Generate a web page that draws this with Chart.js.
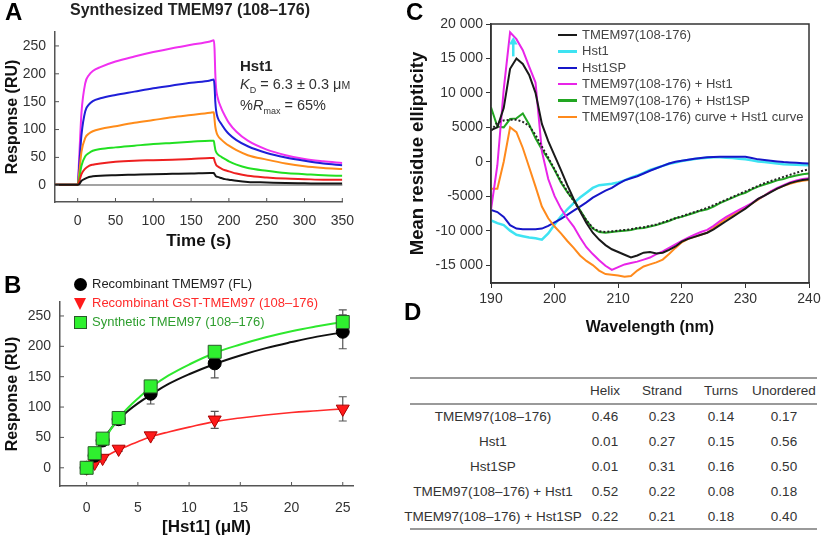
<!DOCTYPE html>
<html>
<head>
<meta charset="utf-8">
<script src="https://cdn.jsdelivr.net/npm/chart.js@4.4.0/dist/chart.umd.min.js"></script>
<style>
  body { margin: 0; background: #fff; }
  #wrap { position: relative; width: 824px; height: 542px; overflow: hidden; font-family: 'Liberation Sans', Arial, sans-serif; color: #222; }
  canvas { position: absolute; }
  .panel { position: absolute; font-weight: bold; font-size: 24px; line-height: 24px; color: #000; }
  .txt { position: absolute; white-space: nowrap; }
  .hline { position: absolute; height: 2px; background: #9a9a9a; }
  .cell { position: absolute; text-align: center; font-size: 13.5px; color: #333; white-space: nowrap; }
</style>
</head>
<body>
<div id="wrap">
  <canvas id="chartA" width="365" height="260" style="left:0;top:0"></canvas>
  <canvas id="chartB" width="370" height="282" style="left:0;top:260px"></canvas>
  <canvas id="chartC" width="424" height="345" style="left:400px;top:0"></canvas>

  <div class="panel" style="left:5px;top:0px">A</div>
  <div class="panel" style="left:4px;top:273px">B</div>
  <div class="panel" style="left:406px;top:0px">C</div>
  <div class="panel" style="left:404px;top:300px">D</div>

  <div class="txt" style="left:0;width:380px;top:1px;text-align:center;font-weight:bold;font-size:16px">Synthesized TMEM97 (108–176)</div>
  <div class="txt" style="left:240px;top:57px;font-weight:bold;font-size:15px">Hst1</div>
  <div class="txt" style="left:240px;top:76px;font-size:14.5px;color:#333"><i>K</i><sub style="font-size:9px">D</sub> = 6.3 ± 0.3 μ<span style="font-size:10.5px">M</span></div>
  <div class="txt" style="left:240px;top:97px;font-size:14.5px;color:#333">%<i>R</i><sub style="font-size:9px">max</sub> = 65%</div>

  <div id="legendB"></div>
  <div id="legendC"></div>
  <div id="tableD"></div>
</div>

<script>
// ----------- Panel A data (sensorgram) -----------
const timeA = [-30, 0, 2, 5, 10, 15, 20, 30, 50, 75, 100, 125, 150, 175, 180, 181, 182, 183, 185, 190, 195, 200, 210, 225, 250, 275, 300, 325, 350];
const respAMagenta = [1, 1, 50, 130, 183, 198, 205, 212, 222, 231, 239, 246, 252, 258, 260, 245, 200, 175, 158, 138, 124, 112, 96, 80, 64, 54, 47, 43, 40];
const respABlue = [1, 1, 35, 90, 133, 145, 151, 156, 162, 168, 174, 179, 184, 188, 190, 178, 150, 135, 122, 110, 100, 92, 81, 70, 58, 50, 44, 39, 36];
const respAOrange = [1, 1, 22, 60, 85, 93, 97, 101, 106, 112, 117, 122, 126, 130, 131, 118, 105, 98, 90, 82, 76, 71, 63, 54, 46, 39, 34, 31, 29];
const respAGreen = [1, 1, 12, 35, 52, 58, 62, 65, 68, 71, 74, 76, 78, 80, 80, 72, 64, 60, 56, 51, 47, 43, 37, 31, 26, 22, 20, 18, 17];
const respARed = [1, 1, 7, 20, 30, 35, 37, 39, 42, 44, 45, 46, 47, 49, 49, 44, 40, 37, 34, 30, 27, 25, 21, 17, 14, 12, 11, 10, 10];
const respABlack = [1, 1, 2, 8, 12, 15, 16, 17, 18, 19, 20, 20.5, 21, 22, 22, 20, 18, 16, 15, 13, 11, 10, 8, 6, 5, 4, 3.5, 3, 3];
const ticksAx = [0, 50, 100, 150, 200, 250, 300, 350];
const ticksAy = [0, 50, 100, 150, 200, 250];

// ----------- Panel B data (dose response) -----------
const concB = [0, 0.78, 1.56, 3.125, 6.25, 12.5, 25];
const flResp = [0, 20, 45, 80, 122, 172, 224];
const flErr = [0, 4, 6, 9, 17, 24, 28];
const gstResp = [0, 8, 16, 31, 53, 79, 97];
const gstErr = [0, 2, 3, 4, 4, 14, 20];
const synResp = [0, 24, 48, 82, 134, 191, 240];
const synErr = [0, 4, 5, 6, 6, 6, 20];
const fitConc = [0, 0.5, 1, 2, 3, 4, 5, 6.25, 8, 10, 12.5, 15, 17.5, 20, 22.5, 25];
const fitFL = [0, 15, 30, 56, 77, 93, 106, 120, 138, 154, 171, 185, 197, 207, 216, 223];
const fitGST = [0, 5, 10, 20, 29, 36, 43, 51, 59, 67, 76, 82, 87, 91, 94, 97];
const fitSyn = [0, 13, 27, 54, 79, 98, 114, 132, 152, 170, 189, 203, 215, 225, 233, 240];
const ticksBx = [0, 5, 10, 15, 20, 25];
const ticksBy = [0, 50, 100, 150, 200, 250];
const legendBLabels = ['Recombinant TMEM97 (FL)', 'Recombinant GST-TMEM97 (108–176)', 'Synthetic TMEM97 (108–176)'];

// ----------- Panel C data (CD spectra) -----------
const wavelength = [190, 191, 192, 193, 194, 195, 196, 197, 198, 199, 200, 201, 202, 203, 204, 205, 206, 207, 208, 209, 210, 211, 212, 213, 214, 215, 216, 217, 218, 219, 220, 221, 222, 223, 224, 225, 226, 227, 228, 229, 230, 231, 232, 233, 234, 235, 236, 237, 238, 239, 240];
const cdTmem = [4600, 5000, 7800, 13500, 15000, 14200, 12600, 10000, 5500, 3000, 900, -1200, -3400, -5400, -7200, -8900, -10300, -11300, -12100, -12700, -13100, -13500, -13900, -13600, -13200, -13100, -13300, -13200, -12800, -12300, -11600, -11200, -10900, -10600, -10300, -9800, -9200, -8600, -8000, -7400, -6800, -6100, -5400, -4900, -4400, -3900, -3500, -3100, -2850, -2650, -2550];
const cdHst1 = [-8500, -8900, -9200, -10000, -10600, -10800, -11000, -11100, -11300, -10400, -9100, -7900, -6900, -6000, -5200, -4500, -3800, -3400, -3300, -3200, -3000, -2700, -2300, -2000, -1600, -1200, -900, -600, -300, -100, 100, 250, 400, 500, 600, 650, 650, 600, 550, 450, 350, 200, 50, -50, -150, -250, -350, -400, -450, -480, -500];
const cdHst1SP = [-7000, -7300, -8000, -9200, -9700, -9800, -9800, -9800, -9700, -9300, -8800, -8300, -7700, -7100, -6500, -5900, -5200, -4700, -4200, -3800, -3200, -2700, -2400, -2100, -1700, -1300, -950, -600, -250, 0, 150, 300, 450, 550, 650, 700, 720, 730, 730, 730, 720, 550, 350, 250, 150, 50, -50, -100, -150, -200, -250];
const cdMixHst1 = [-7000, -500, 10500, 18800, 17800, 16200, 13800, 11500, 1500, -2500, -5000, -6800, -8200, -9400, -11000, -12400, -13400, -14300, -15100, -15700, -15300, -14900, -14700, -14500, -14200, -13900, -13400, -13000, -12500, -12000, -11500, -11000, -10600, -10200, -9900, -9300, -8600, -8000, -7500, -7000, -6500, -6000, -5400, -4900, -4300, -3800, -3400, -3000, -2700, -2500, -2400];
const cdMixHst1SP = [7900, 5100, 5000, 6200, 6300, 7000, 5400, 3400, 1800, 400, -1200, -3000, -4400, -5600, -7000, -8500, -9700, -10200, -10300, -10200, -10100, -10000, -9900, -9700, -9600, -9400, -9200, -8900, -8600, -8200, -8000, -7700, -7400, -7100, -6900, -6500, -6000, -5600, -5200, -4800, -4500, -4000, -3600, -3300, -3000, -2700, -2500, -2200, -2000, -1800, -1700];
const cdFitMixSP = [4500, 5700, 6000, 6100, 6100, 5800, 5200, 3900, 2200, 600, -1100, -2800, -4300, -5700, -7100, -8500, -9600, -10100, -10200, -10100, -10000, -9900, -9800, -9600, -9500, -9300, -9100, -8800, -8500, -8200, -7900, -7600, -7300, -7000, -6700, -6300, -5900, -5500, -5100, -4700, -4300, -3900, -3500, -3100, -2800, -2500, -2200, -1900, -1600, -1300, -1100];
const cdSum = [-3900, -3900, 0, 5000, 4300, 2000, -800, -3600, -6500, -8200, -9400, -10400, -11500, -12500, -13600, -14400, -15000, -15800, -16300, -16400, -16500, -16700, -16600, -15800, -15200, -14900, -14600, -14200, -13400, -12500, -11700, -11200, -10900, -10600, -10300, -9600, -8900, -8300, -7700, -7200, -6700, -6100, -5500, -4900, -4300, -3900, -3500, -3200, -2950, -2750, -2650];
const arrowWl = [193.5, 193.5];
const arrowVal = [15300, 17400];
const ticksCx = [190, 200, 210, 220, 230, 240];
const ticksCy = [-15000, -10000, -5000, 0, 5000, 10000, 15000, 20000];
const tickLabelsCy = ['-15 000', '-10 000', '-5000', '0', '5000', '10 000', '15 000', '20 000'];
const legendCLabels = ['TMEM97(108-176)', 'Hst1', 'Hst1SP', 'TMEM97(108-176) + Hst1', 'TMEM97(108-176) + Hst1SP', 'TMEM97(108-176) curve + Hst1 curve'];

// ----------- Panel D data (secondary structure) -----------
const tableCols = ['Helix', 'Strand', 'Turns', 'Unordered'];
const tableRows = ['TMEM97(108–176)', 'Hst1', 'Hst1SP', 'TMEM97(108–176) + Hst1', 'TMEM97(108–176) + Hst1SP'];
const helix = [0.46, 0.01, 0.01, 0.52, 0.22];
const strand = [0.23, 0.27, 0.31, 0.22, 0.21];
const turns = [0.14, 0.15, 0.16, 0.08, 0.18];
const unordered = [0.17, 0.56, 0.50, 0.18, 0.40];

Chart.defaults.font.family = "'Liberation Sans', Arial, sans-serif";
Chart.defaults.color = '#333';

const xy = (xs, ys) => ys.map((y, i) => ({ x: xs[i], y: y }));
const fixTicks = list => scale => { scale.ticks = list.map(v => ({ value: v })); };

// small ticks pointing into the plot (A and B)
const innerTicks = {
  id: 'innerTicks',
  afterDatasetsDraw(chart, args, opts) {
    if (!opts.len) return;
    const { ctx, chartArea: a, scales } = chart;
    ctx.save();
    ctx.strokeStyle = opts.color;
    ctx.lineWidth = 1;
    ctx.beginPath();
    scales.x.ticks.forEach(t => {
      const px = scales.x.getPixelForValue(t.value);
      ctx.moveTo(px, a.bottom); ctx.lineTo(px, a.bottom - opts.len);
    });
    scales.y.ticks.forEach(t => {
      const py = scales.y.getPixelForValue(t.value);
      ctx.moveTo(a.left, py); ctx.lineTo(a.left + opts.len, py);
    });
    ctx.stroke();
    ctx.restore();
  }
};

// vertical error bars with caps (B)
const errorBars = {
  id: 'errorBars',
  beforeDatasetsDraw(chart) {
    const { ctx, scales } = chart;
    ctx.save();
    ctx.strokeStyle = '#555';
    ctx.lineWidth = 1.2;
    chart.data.datasets.forEach((ds, i) => {
      if (!ds.errorBars) return;
      chart.getDatasetMeta(i).data.forEach((pt, j) => {
        const err = ds.errorBars[j];
        if (!err) return;
        const top = scales.y.getPixelForValue(ds.data[j].y + err);
        const bot = scales.y.getPixelForValue(ds.data[j].y - err);
        ctx.beginPath();
        ctx.moveTo(pt.x, top); ctx.lineTo(pt.x, bot);
        ctx.moveTo(pt.x - 4, top); ctx.lineTo(pt.x + 4, top);
        ctx.moveTo(pt.x - 4, bot); ctx.lineTo(pt.x + 4, bot);
        ctx.stroke();
      });
    });
    ctx.restore();
  }
};

// full box around the plot (C)
const frame = {
  id: 'frame',
  afterDraw(chart, args, opts) {
    if (!opts.color) return;
    const { ctx, chartArea: a } = chart;
    ctx.save();
    ctx.strokeStyle = opts.color;
    ctx.lineWidth = 1.5;
    ctx.strokeRect(a.left, a.top, a.right - a.left, a.bottom - a.top);
    ctx.restore();
  }
};

const lineSet = (xs, ys, color, width, extra) => Object.assign({
  data: xy(xs, ys), borderColor: color, backgroundColor: color, borderWidth: width,
  pointRadius: 0, fill: false
}, extra || {});

// ----------- Panel A chart -----------
new Chart(document.getElementById('chartA'), {
  type: 'line',
  data: {
    datasets: [
      lineSet(timeA, respABlack, '#151515', 2, { cubicInterpolationMode: 'monotone' }),
      lineSet(timeA, respARed, '#ee2020', 2, { cubicInterpolationMode: 'monotone' }),
      lineSet(timeA, respAGreen, '#22e022', 2, { cubicInterpolationMode: 'monotone' }),
      lineSet(timeA, respAOrange, '#ff8c1a', 2, { cubicInterpolationMode: 'monotone' }),
      lineSet(timeA, respABlue, '#1f1fd8', 2, { cubicInterpolationMode: 'monotone' }),
      lineSet(timeA, respAMagenta, '#f030f0', 2, { cubicInterpolationMode: 'monotone' })
    ]
  },
  plugins: [innerTicks],
  options: {
    responsive: false, animation: false, devicePixelRatio: 1,
    layout: { padding: { top: 32, right: 17, left: 0, bottom: 0 } },
    plugins: { legend: { display: false }, tooltip: { enabled: false }, innerTicks: { len: 4, color: '#555' } },
    scales: {
      x: {
        type: 'linear', min: -30, max: 350,
        afterBuildTicks: fixTicks(ticksAx),
        afterFit: s => { s.height = 58; },
        grid: { display: false, drawTicks: false },
        border: { display: true, color: '#555', width: 1.5 },
        ticks: { color: '#333', font: { size: 14 }, padding: 11, maxRotation: 0 },
        title: { display: true, text: 'Time (s)', color: '#111', font: { size: 17, weight: 'bold' }, padding: { top: 0, bottom: 8 } }
      },
      y: {
        type: 'linear', min: -30, max: 275,
        afterBuildTicks: fixTicks(ticksAy),
        afterFit: s => { s.width = 55; },
        grid: { drawTicks: false, lineWidth: 2, color: c => (c.tick && c.tick.value === 0) ? '#a3a3a3' : 'rgba(0,0,0,0)' },
        border: { display: true, color: '#555', width: 1.5 },
        ticks: { color: '#333', font: { size: 14 }, padding: 9 },
        title: { display: true, text: 'Response (RU)', color: '#111', font: { size: 16, weight: 'bold' }, padding: { top: 3, bottom: 0 } }
      }
    }
  }
});

// ----------- Panel B chart -----------
new Chart(document.getElementById('chartB'), {
  type: 'line',
  data: {
    datasets: [
      { data: xy(concB, synResp), errorBars: synErr, showLine: false, order: 0, pointStyle: 'rect', pointRadius: 9.2, backgroundColor: '#2ff02f', borderColor: '#2a5a2a', borderWidth: 1 },
      { data: xy(concB, flResp), errorBars: flErr, showLine: false, order: 1, pointStyle: 'circle', pointRadius: 6.5, backgroundColor: '#000', borderColor: '#000', borderWidth: 1 },
      { data: xy(concB, gstResp), errorBars: gstErr, showLine: false, order: 2, pointStyle: 'triangle', rotation: 180, pointRadius: 7.5, backgroundColor: '#ff1a1a', borderColor: '#a00', borderWidth: 1 },
      lineSet(fitConc, fitGST, '#ff2a2a', 1.6, { order: 5, tension: 0.4 }),
      lineSet(fitConc, fitFL, '#111', 2, { order: 4, tension: 0.4 }),
      lineSet(fitConc, fitSyn, '#2ee82e', 2, { order: 3, tension: 0.4 })
    ]
  },
  plugins: [innerTicks, errorBars],
  options: {
    responsive: false, animation: false, devicePixelRatio: 1,
    layout: { padding: { top: 42, right: 17, left: 0, bottom: 0 } },
    plugins: { legend: { display: false }, tooltip: { enabled: false }, innerTicks: { len: 4, color: '#555' } },
    scales: {
      x: {
        type: 'linear', min: -2.6, max: 26,
        afterBuildTicks: fixTicks(ticksBx),
        afterFit: s => { s.height = 56; },
        grid: { display: false, drawTicks: false },
        border: { display: true, color: '#555', width: 1.5 },
        ticks: { color: '#333', font: { size: 14 }, padding: 14, maxRotation: 0 },
        title: { display: true, text: '[Hst1] (μM)', color: '#111', font: { size: 17, weight: 'bold' }, padding: { top: 0, bottom: 4 } }
      },
      y: {
        type: 'linear', min: -30, max: 273,
        afterBuildTicks: fixTicks(ticksBy),
        afterFit: s => { s.width = 60; },
        grid: { display: false, drawTicks: false },
        border: { display: true, color: '#555', width: 1.5 },
        ticks: { color: '#333', font: { size: 14 }, padding: 9 },
        title: { display: true, text: 'Response (RU)', color: '#111', font: { size: 16, weight: 'bold' }, padding: { top: 3, bottom: 0 } }
      }
    }
  }
});

// ----------- Panel C chart -----------
const cdColors = ['#1a1a1a', '#3ee3f2', '#1616c8', '#e824e8', '#22a622', '#ff8a1c'];
new Chart(document.getElementById('chartC'), {
  type: 'line',
  data: {
    datasets: [
      lineSet(wavelength, cdFitMixSP, '#222', 2, { borderDash: [2, 2], order: 0 }),
      lineSet(arrowWl, arrowVal, cdColors[1], 2.5, { order: 1, pointRadius: [0, 5], pointStyle: 'triangle', pointBorderWidth: 0 }),
      lineSet(wavelength, cdTmem, cdColors[0], 2, { order: 2 }),
      lineSet(wavelength, cdMixHst1, cdColors[3], 2, { order: 3 }),
      lineSet(wavelength, cdMixHst1SP, cdColors[4], 2, { order: 4 }),
      lineSet(wavelength, cdSum, cdColors[5], 2, { order: 5 }),
      lineSet(wavelength, cdHst1SP, cdColors[2], 2, { order: 6 }),
      lineSet(wavelength, cdHst1, cdColors[1], 2.5, { order: 7 })
    ]
  },
  plugins: [frame],
  options: {
    responsive: false, animation: false, devicePixelRatio: 1,
    layout: { padding: { top: 24, right: 15, left: 0, bottom: 0 } },
    plugins: { legend: { display: false }, tooltip: { enabled: false }, frame: { color: '#333' } },
    scales: {
      x: {
        type: 'linear', min: 190, max: 240,
        afterBuildTicks: fixTicks(ticksCx),
        afterFit: s => { s.height = 62; },
        grid: { display: true, drawOnChartArea: false, drawTicks: true, tickLength: 5, color: '#333' },
        border: { display: true, color: '#333', width: 1.5 },
        ticks: { color: '#333', font: { size: 14 }, padding: 3, maxRotation: 0 },
        title: { display: true, text: 'Wavelength (nm)', color: '#111', font: { size: 16, weight: 'bold' }, padding: { top: 0, bottom: 8 } }
      },
      y: {
        type: 'linear', min: -17600, max: 20000,
        afterBuildTicks: fixTicks(ticksCy),
        afterFit: s => { s.width = 91; },
        grid: { display: true, drawOnChartArea: false, drawTicks: true, tickLength: 5, color: '#333' },
        border: { display: true, color: '#333', width: 1.5 },
        ticks: { color: '#333', font: { size: 14 }, padding: 3, callback: v => tickLabelsCy[ticksCy.indexOf(v)] },
        title: { display: true, text: 'Mean residue ellipticity', color: '#111', font: { size: 18.5, weight: 'bold' }, padding: { top: 7, bottom: 0 } }
      }
    }
  }
});

// ----------- Legends -----------
const legB = document.getElementById('legendB');
const legBColors = ['#222', '#ff2a2a', '#2e9e2e'];
legendBLabels.forEach((label, i) => {
  const y = 284 + i * 19;
  let marker;
  if (i === 0) marker = '<div style="position:absolute;left:74px;top:' + (y - 6.5) + 'px;width:13px;height:13px;border-radius:50%;background:#000"></div>';
  if (i === 1) marker = '<div style="position:absolute;left:74px;top:' + (y - 5) + 'px;width:0;height:0;border-left:6.5px solid transparent;border-right:6.5px solid transparent;border-top:12px solid #ff1a1a"></div>';
  if (i === 2) marker = '<div style="position:absolute;left:74px;top:' + (y - 6.5) + 'px;width:11px;height:11px;background:#2ff02f;border:1px solid #2a5a2a"></div>';
  legB.insertAdjacentHTML('beforeend', marker +
    '<div class="txt" style="left:92px;top:' + (y - 8) + 'px;font-size:13px;color:' + legBColors[i] + '">' + label + '</div>');
});

const legC = document.getElementById('legendC');
legendCLabels.forEach((label, i) => {
  const y = 35 + i * 16.4;
  legC.insertAdjacentHTML('beforeend',
    '<div style="position:absolute;left:558px;top:' + (y - 1.25) + 'px;width:19px;height:2.5px;background:' + cdColors[i] + '"></div>' +
    '<div class="txt" style="left:582px;top:' + (y - 8) + 'px;font-size:13px;color:#444">' + label + '</div>');
});

// ----------- Table D -----------
const tab = document.getElementById('tableD');
const colCenters = [493, 605, 662, 721, 784];
const colWidths = [170, 54, 60, 58, 67];
const cell = (text, col, yc) =>
  '<div class="cell" style="left:' + (colCenters[col] - colWidths[col] / 2 - 20) + 'px;width:' + (colWidths[col] + 40) + 'px;top:' + (yc - 8) + 'px">' + text + '</div>';
let html = '<div class="hline" style="left:410px;width:407px;top:377px"></div>' +
           '<div class="hline" style="left:410px;width:407px;top:403px"></div>' +
           '<div class="hline" style="left:410px;width:407px;top:528px"></div>';
tableCols.forEach((c, j) => { html += cell(c, j + 1, 391); });
tableRows.forEach((name, i) => {
  const yc = 417 + i * 25;
  html += cell(name, 0, yc);
  [helix, strand, turns, unordered].forEach((col, j) => { html += cell(col[i].toFixed(2), j + 1, yc); });
});
tab.innerHTML = html;
</script>
</body>
</html>
